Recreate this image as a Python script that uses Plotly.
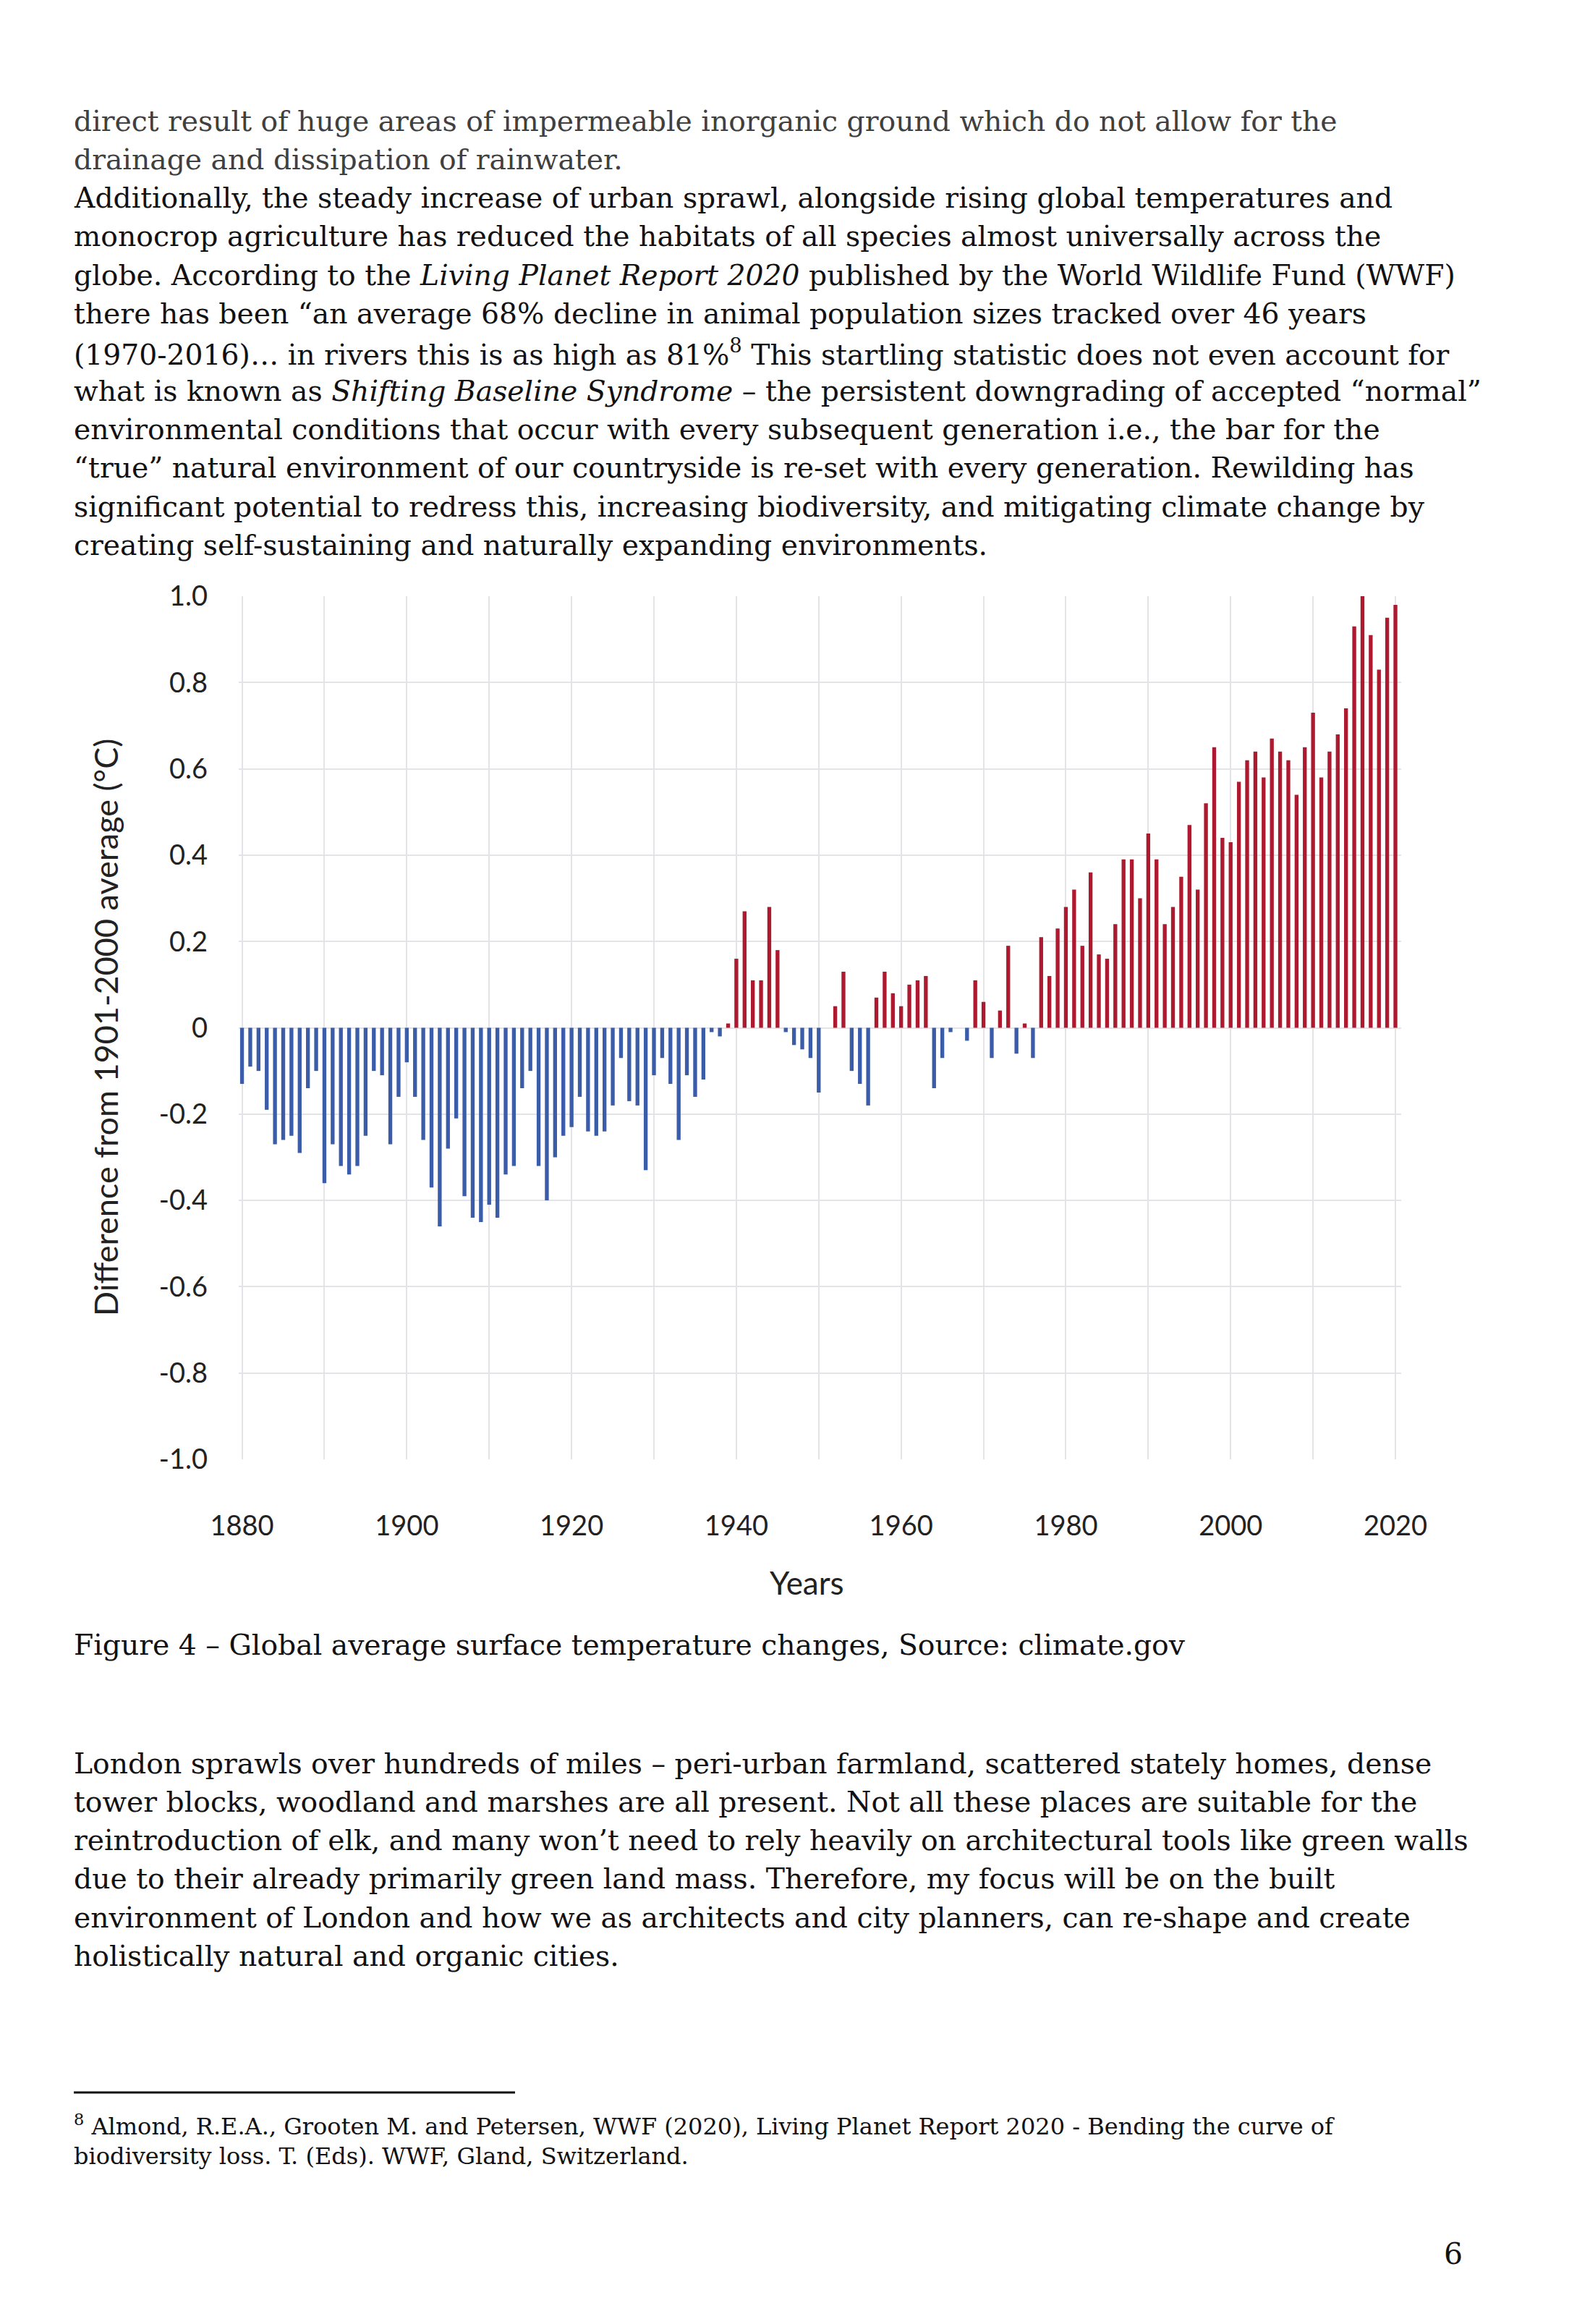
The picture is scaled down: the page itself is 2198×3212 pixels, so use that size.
import plotly.graph_objects as go

# ---------------- data ----------------
years = list(range(1880, 2021))
anomaly = [
    -0.13, -0.09, -0.10, -0.19, -0.27, -0.26, -0.25, -0.29, -0.14, -0.10,
    -0.36, -0.27, -0.32, -0.34, -0.32, -0.25, -0.10, -0.11, -0.27, -0.16,
    -0.08, -0.16, -0.26, -0.37, -0.46, -0.28, -0.21, -0.39, -0.44, -0.45,
    -0.41, -0.44, -0.34, -0.32, -0.14, -0.10, -0.32, -0.40, -0.30, -0.25,
    -0.23, -0.16, -0.24, -0.25, -0.24, -0.18, -0.07, -0.17, -0.18, -0.33,
    -0.11, -0.07, -0.13, -0.26, -0.11, -0.16, -0.12, -0.01, -0.02, 0.01,
    0.16, 0.27, 0.11, 0.11, 0.28, 0.18, -0.01, -0.04, -0.05, -0.07,
    -0.15, 0.00, 0.05, 0.13, -0.10, -0.13, -0.18, 0.07, 0.13, 0.08,
    0.05, 0.10, 0.11, 0.12, -0.14, -0.07, -0.01, 0.00, -0.03, 0.11,
    0.06, -0.07, 0.04, 0.19, -0.06, 0.01, -0.07, 0.21, 0.12, 0.23,
    0.28, 0.32, 0.19, 0.36, 0.17, 0.16, 0.24, 0.39, 0.39, 0.30,
    0.45, 0.39, 0.24, 0.28, 0.35, 0.47, 0.32, 0.52, 0.65, 0.44,
    0.43, 0.57, 0.62, 0.64, 0.58, 0.67, 0.64, 0.62, 0.54, 0.65,
    0.73, 0.58, 0.64, 0.68, 0.74, 0.93, 1.00, 0.91, 0.83, 0.95,
    0.98,
]
x_tick_years = list(range(1880, 2021, 20))
x_tick_labels = [str(y) for y in x_tick_years]
y_tick_vals = [1.0, 0.8, 0.6, 0.4, 0.2, 0.0, -0.2, -0.4, -0.6, -0.8, -1.0]
y_tick_labels = ["1.0", "0.8", "0.6", "0.4", "0.2", "0", "-0.2", "-0.4", "-0.6", "-0.8", "-1.0"]

para1_lines = [
    "direct result of huge areas of impermeable inorganic ground which do not allow for the",
    "drainage and dissipation of rainwater.",
]
para2_lines = [
    "Additionally, the steady increase of urban sprawl, alongside rising global temperatures and",
    "monocrop agriculture has reduced the habitats of all species almost universally across the",
    "globe. According to the <i>Living Planet Report 2020</i> published by the World Wildlife Fund (WWF)",
    "there has been \u201can average 68% decline in animal population sizes tracked over 46 years",
    "(1970-2016)\u2026 in rivers this is as high as 81%<sup>8</sup> This startling statistic does not even account for",
    "what is known as <i>Shifting Baseline Syndrome</i> \u2013 the persistent downgrading of accepted \u201cnormal\u201d",
    "environmental conditions that occur with every subsequent generation i.e., the bar for the",
    "\u201ctrue\u201d natural environment of our countryside is re-set with every generation. Rewilding has",
    "significant potential to redress this, increasing biodiversity, and mitigating climate change by",
    "creating self-sustaining and naturally expanding environments.",
]
caption = "Figure 4 \u2013 Global average surface temperature changes, Source: climate.gov"
para3_lines = [
    "London sprawls over hundreds of miles \u2013 peri-urban farmland, scattered stately homes, dense",
    "tower blocks, woodland and marshes are all present. Not all these places are suitable for the",
    "reintroduction of elk, and many won\u2019t need to rely heavily on architectural tools like green walls",
    "due to their already primarily green land mass. Therefore, my focus will be on the built",
    "environment of London and how we as architects and city planners, can re-shape and create",
    "holistically natural and organic cities.",
]
footnote_lines = [
    "<sup>8</sup> Almond, R.E.A., Grooten M. and Petersen, WWF (2020), Living Planet Report 2020 - Bending the curve of",
    "biodiversity loss. T. (Eds). WWF, Gland, Switzerland.",
]
page_number = "6"
y_title = "Difference from 1901-2000 average (\u00b0C)"
x_title = "Years"

# ---------------- layout geometry ----------------
W, H = 2198, 3212
ML, MR, MT, MB = 330, 261, 824, 1195
PW, PH = W - ML - MR, H - MT - MB


def px(x):
    return (x - ML) / PW


def py(y):
    return 1 - (y - MT) / PH


BLUE = "#3b5ca8"
RED = "#ad1a2f"
bar_colors = [RED if v > 0 else BLUE for v in anomaly]

fig = go.Figure()
fig.add_trace(go.Bar(
    x=years, y=anomaly, width=0.47,
    marker=dict(color=bar_colors, line=dict(width=0)),
    showlegend=False,
))

SERIF = "DejaVu Serif"
SANS = "Lato"
annotations = []


def add_line(text, x, y, size, color, family=SERIF, xanchor="left"):
    annotations.append(dict(
        text=text, x=px(x), y=py(y), xref="paper", yref="paper",
        xanchor=xanchor, yanchor="middle", showarrow=False,
        font=dict(family=family, size=size, color=color),
    ))


LINE = 53.3
BODY = 39.3
y0 = 167
for i, t in enumerate(para1_lines):
    add_line(t, 100, y0 + i * LINE, BODY, "#404040")
for i, t in enumerate(para2_lines):
    add_line(t, 100, y0 + (i + 2) * LINE, BODY, "#111111")

add_line(caption, 100, 2273, BODY, "#111111")
y3 = 2437
for i, t in enumerate(para3_lines):
    add_line(t, 100, y3 + i * LINE, BODY, "#111111")
for i, t in enumerate(footnote_lines):
    add_line(t, 100, 2937 + i * 43, 32, "#111111")
add_line(page_number, 2009, 3115, 41, "#111111", xanchor="center")

# axis titles
annotations.append(dict(
    text=y_title, x=px(146), y=py(1420), xref="paper", yref="paper",
    xanchor="center", yanchor="middle", showarrow=False, textangle=-90,
    font=dict(family=SANS, size=45, color="#222222"),
))
annotations.append(dict(
    text=x_title, x=px(1115), y=py(2187), xref="paper", yref="paper",
    xanchor="center", yanchor="middle", showarrow=False,
    font=dict(family=SANS, size=44, color="#222222"),
))

shapes = [dict(
    type="line", xref="paper", yref="paper",
    x0=px(102), x1=px(712), y0=py(2892), y1=py(2892),
    line=dict(color="#111111", width=3),
)]

GRID = "#e4e4e8"
fig.update_layout(
    width=W, height=H,
    margin=dict(l=ML, r=MR, t=MT, b=MB, pad=0),
    paper_bgcolor="white", plot_bgcolor="white",
    bargap=0.5,
    annotations=annotations, shapes=shapes,
    xaxis=dict(
        range=[1879.6, 2020.7],
        tickvals=x_tick_years, ticktext=x_tick_labels,
        showgrid=True, gridcolor=GRID, gridwidth=2,
        minor=dict(dtick=10, tick0=1880, showgrid=True, gridcolor=GRID, gridwidth=2, ticks=""),
        zeroline=False, showline=False, ticks="",
        tickfont=dict(family=SANS, size=38, color="#222222"),
        ticklabelstandoff=66,
    ),
    yaxis=dict(
        range=[-1.0, 1.0],
        tickvals=y_tick_vals, ticktext=y_tick_labels,
        showgrid=True, gridcolor=GRID, gridwidth=2,
        zeroline=False, showline=False, ticks="",
        tickfont=dict(family=SANS, size=38, color="#222222"),
        ticklabelstandoff=42,
    ),
)

fig.write_html(
    "out.html",
    config={"displayModeBar": False},
    post_script="document.body.style.margin='0';document.body.style.overflow='hidden';",
)
